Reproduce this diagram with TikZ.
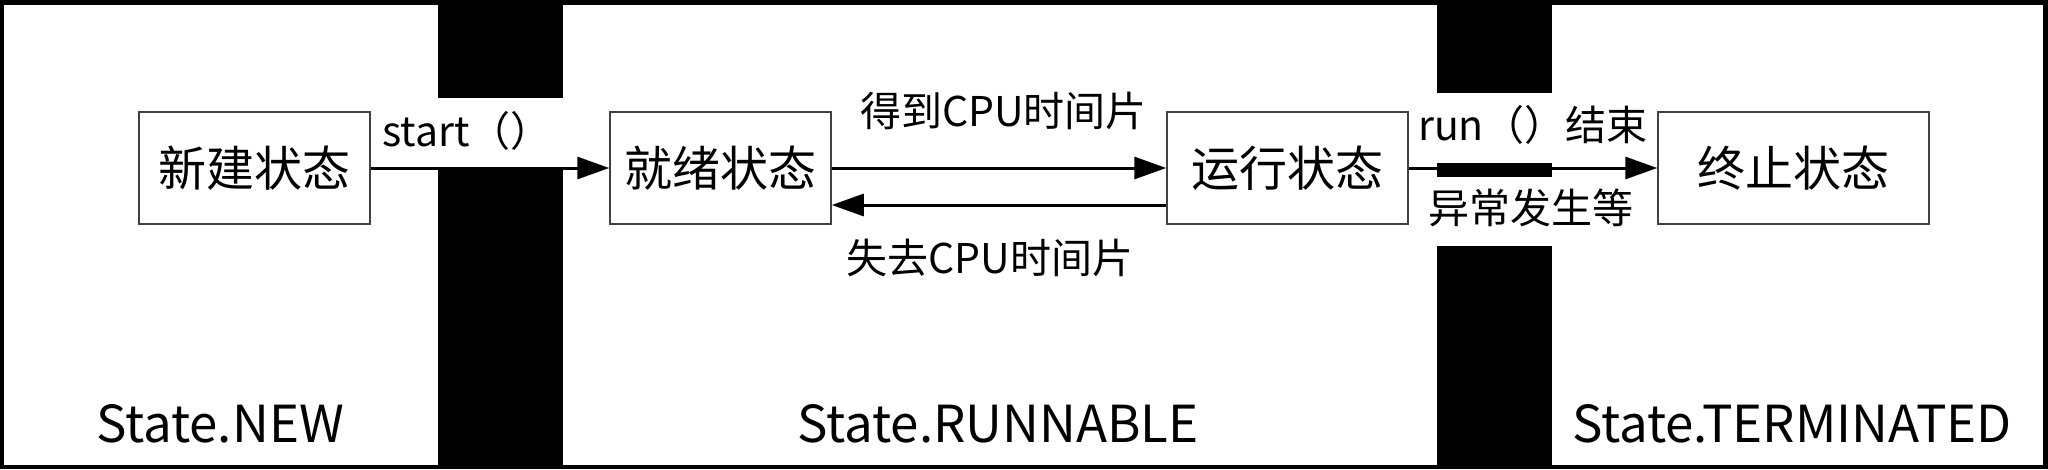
\documentclass[tikz,border=0pt]{standalone}
\usepackage{fontspec}
\setmainfont{Noto Sans CJK SC}
\usetikzlibrary{arrows.meta}
\begin{document}
\begin{tikzpicture}[x=1pt,y=-1pt,
  statebox/.style={draw=black!75, line width=1.5pt, fill=white, inner sep=0pt, font=\fontsize{48}{56}\selectfont},
  lbl/.style={inner sep=0pt, font=\fontsize{41}{48}\selectfont},
  paneltitle/.style={inner sep=0pt, font=\fontsize{51}{60}\selectfont},
  arr/.style={line width=3pt, -{Triangle[length=32pt,width=22pt]}},
  panel/.style={fill=white},
  strip/.style={fill=white}]
\useasboundingbox (0,0) rectangle (2048,469);
\fill[black] (0,0) rectangle (2048,469);
% panels
\fill[panel] (4,5) rectangle (438,465);
\fill[panel] (563,5) rectangle (1437,465);
\fill[panel] (1552,5) rectangle (2043,465);
% label backgrounds across the gaps
\fill[strip] (438,98) rectangle (563,167);
\fill[strip] (1437,93) rectangle (1552,163);
\fill[strip] (1437,177) rectangle (1552,246);
% states
\node[statebox, minimum width=231pt, minimum height=112pt] (new) at (254.5,168) {新建状态};
\node[statebox, minimum width=221pt, minimum height=112pt] (ready) at (720.5,168) {就绪状态};
\node[statebox, minimum width=241pt, minimum height=112pt] (run) at (1287.5,168) {运行状态};
\node[statebox, minimum width=271pt, minimum height=112pt] (term) at (1793.5,168) {终止状态};
% connectors
\draw[arr] (new.east) -- (ready.west);
\draw[arr] (ready.east) -- (run.west);
\draw[arr] ([yshift=-37pt]run.west) -- ([yshift=-37pt]ready.east);
\draw[arr] (run.east) -- (term.west);
% labels
\node[lbl] (lstart) at (467,131) {start（）};
\node[lbl] (lget) at (1003.5,111) {得到CPU时间片};
\node[lbl] (llose) at (990,258) {失去CPU时间片};
\node[lbl] (lend) at (1533,125) {run（）结束};
\node[lbl] (lexc) at (1530.5,208) {异常发生等};
% panel titles
\node[paneltitle] (tnew) at (220,424) {State.NEW};
\node[paneltitle] (trun) at (998,424) {State.RUNNABLE};
\node[paneltitle] (tterm) at (1792,424) {State.TERMINATED};
\end{tikzpicture}
\end{document}
